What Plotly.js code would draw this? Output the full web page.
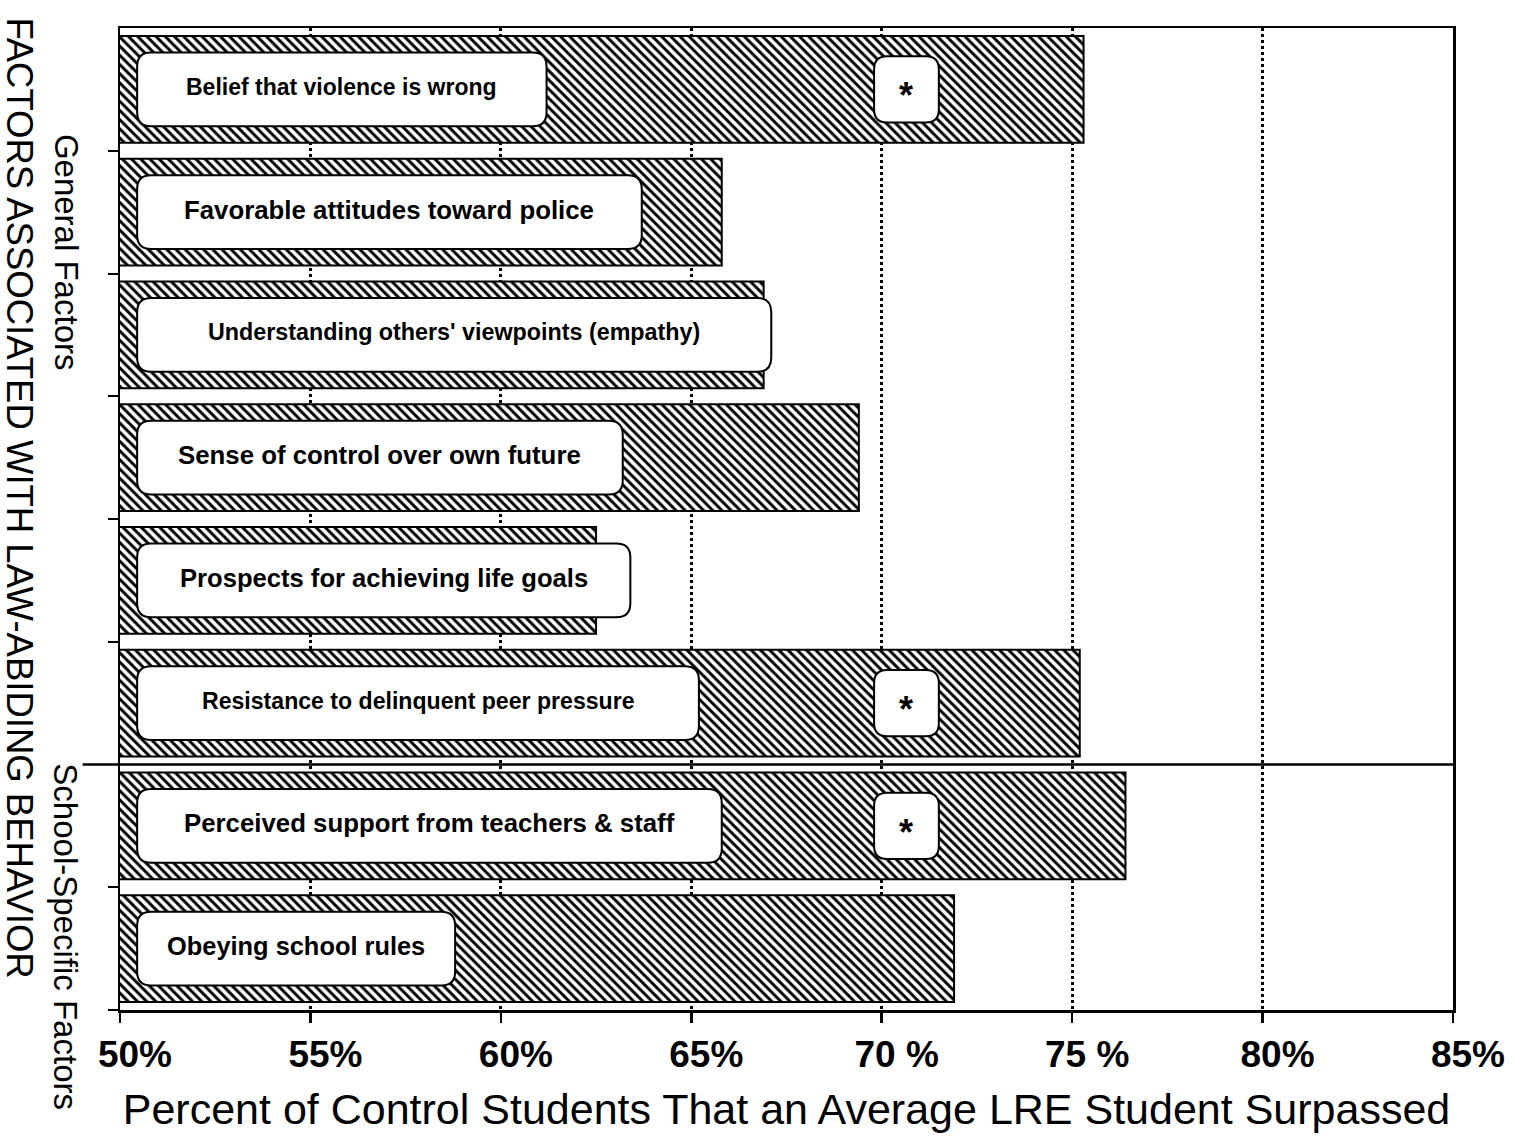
<!DOCTYPE html>
<html>
<head>
<meta charset="utf-8">
<script src="https://cdn.plot.ly/plotly-3.0.1.min.js"></script>
<style>
  html, body { margin: 0; padding: 0; background: #ffffff; }
  #chart { width: 1516px; height: 1145px; }
</style>
</head>
<body>
<div id="chart"></div>
<script>
// ---------- data ----------
const categories = [
  "Belief that violence is wrong",
  "Favorable attitudes toward police",
  "Understanding others' viewpoints (empathy)",
  "Sense of control over own future",
  "Prospects for achieving life goals",
  "Resistance to delinquent peer pressure",
  "Perceived support from teachers & staff",
  "Obeying school rules"
];
const percentSurpassed = [75.3, 65.8, 66.9, 69.4, 62.5, 75.2, 76.4, 71.9];
const significant = [true, false, false, false, false, true, true, false];
const groupNames = ["General Factors", "School-Specific Factors"];
const tickValues = [50, 55, 60, 65, 70, 75, 80, 85];
const tickLabels = ["50%", "55%", "60%", "65%", "70 %", "75 %", "80%", "85%"];

// ---------- layout / style helpers (decoration only) ----------
const labelBoxEnd = [61.2, 63.7, 67.1, 63.2, 63.4, 65.2, 65.8, 58.8];
const labelFontSize = [23, 25.8, 23.3, 25.8, 25.6, 23.1, 25.8, 25.4];
const labelBoxStart = 50.45;
const starX = 70.65;

const FONT = "Liberation Sans, Arial, Helvetica, sans-serif";
const idx = categories.map((c, i) => i);

// pixel scale for corner radii (plot area ~1333 px for 35 %, ~982 px for 8 rows)
const pxPerX = 1333 / 35, pxPerY = 982 / 8;
function roundRect(x0, x1, y0, y1, r) {
  const rx = r / pxPerX, ry = r / pxPerY;
  return `M ${x0 + rx},${y0} L ${x1 - rx},${y0} Q ${x1},${y0} ${x1},${y0 + ry} ` +
         `L ${x1},${y1 - ry} Q ${x1},${y1} ${x1 - rx},${y1} L ${x0 + rx},${y1} ` +
         `Q ${x0},${y1} ${x0},${y1 - ry} L ${x0},${y0 + ry} Q ${x0},${y0} ${x0 + rx},${y0} Z`;
}

const shapes = [];
const annotations = [];

idx.forEach(i => {
  shapes.push({
    type: "path", xref: "x", yref: "y", layer: "above",
    path: roundRect(labelBoxStart, labelBoxEnd[i], i - 0.3, i + 0.3, 14),
    fillcolor: "#ffffff", line: { color: "#000000", width: 2 }
  });
  annotations.push({
    xref: "x", yref: "y", x: (labelBoxStart + labelBoxEnd[i]) / 2, y: i - 0.02,
    xanchor: "center", yanchor: "middle",
    text: "<b>" + categories[i] + "</b>", showarrow: false,
    font: { family: FONT, size: labelFontSize[i], color: "#000000" }
  });
  if (significant[i]) {
    shapes.push({
      type: "path", xref: "x", yref: "y", layer: "above",
      path: roundRect(starX - 0.85, starX + 0.85, i - 0.27, i + 0.27, 13),
      fillcolor: "#ffffff", line: { color: "#000000", width: 2 }
    });
    annotations.push({
      xref: "x", yref: "y", x: starX, y: i + 0.05,
      xanchor: "center", yanchor: "middle",
      text: "<b>*</b>", showarrow: false,
      font: { family: FONT, size: 36, color: "#000000" }
    });
  }
});

// divider between general and school-specific factors
shapes.push({
  type: "line", xref: "paper", yref: "y", layer: "above",
  x0: -0.028, x1: 1, y0: 5.5, y1: 5.5,
  line: { color: "#000000", width: 2.5 }
});

// y-side titles
annotations.push({
  xref: "paper", yref: "paper", x: 0, y: 0.522, xshift: -100,
  xanchor: "center", yanchor: "middle",
  text: "FACTORS ASSOCIATED WITH LAW-ABIDING BEHAVIOR", textangle: 90,
  showarrow: false, font: { family: FONT, size: 36.5, color: "#000000" }
});
annotations.push({
  xref: "paper", yref: "paper", x: 0, y: 0.772, xshift: -54,
  xanchor: "center", yanchor: "middle",
  text: groupNames[0], textangle: 90,
  showarrow: false, font: { family: FONT, size: 33, color: "#000000" }
});
annotations.push({
  xref: "paper", yref: "paper", x: 0, y: 0.075, xshift: -54,
  xanchor: "center", yanchor: "middle",
  text: groupNames[1], textangle: 90,
  showarrow: false, font: { family: FONT, size: 33, color: "#000000" }
});

const trace = {
  type: "bar", orientation: "h",
  x: percentSurpassed, y: idx,
  width: 0.87,
  marker: {
    color: "#ffffff",
    line: { color: "#000000", width: 2 },
    pattern: { shape: "\\", fgcolor: "#000000", bgcolor: "#ffffff", size: 6.5, solidity: 0.45 }
  },
  hoverinfo: "skip"
};

const layout = {
  width: 1516, height: 1145,
  margin: { l: 120, r: 63, t: 28, b: 135 },
  paper_bgcolor: "#ffffff", plot_bgcolor: "#ffffff",
  showlegend: false,
  font: { family: FONT, color: "#000000" },
  xaxis: {
    range: [50, 85], tickvals: tickValues, ticktext: tickLabels,
    ticks: "outside", ticklen: 10, tickwidth: 2.5, tickcolor: "#000000",
    ticklabelshift: 15,
    tickfont: { family: FONT, size: 37, color: "#000000", weight: "bold" },
    showline: true, linewidth: 2.5, linecolor: "#000000", mirror: true,
    showgrid: true, gridcolor: "#000000", gridwidth: 3, griddash: "dot",
    zeroline: false, fixedrange: true,
    title: {
      text: "Percent of Control Students That an Average LRE Student Surpassed",
      font: { family: FONT, size: 43, color: "#000000" }, standoff: 20
    }
  },
  yaxis: {
    range: [7.5, -0.5],
    tickvals: [0.5, 1.5, 2.5, 3.5, 4.5, 6.5, 7.5],
    showticklabels: false,
    ticks: "outside", ticklen: 10, tickwidth: 2, tickcolor: "#000000",
    showline: true, linewidth: 2.5, linecolor: "#000000", mirror: true,
    showgrid: false, zeroline: false, fixedrange: true
  },
  shapes: shapes,
  annotations: annotations
};

Plotly.newPlot("chart", [trace], layout, { displayModeBar: false, staticPlot: true });
</script>
</body>
</html>
